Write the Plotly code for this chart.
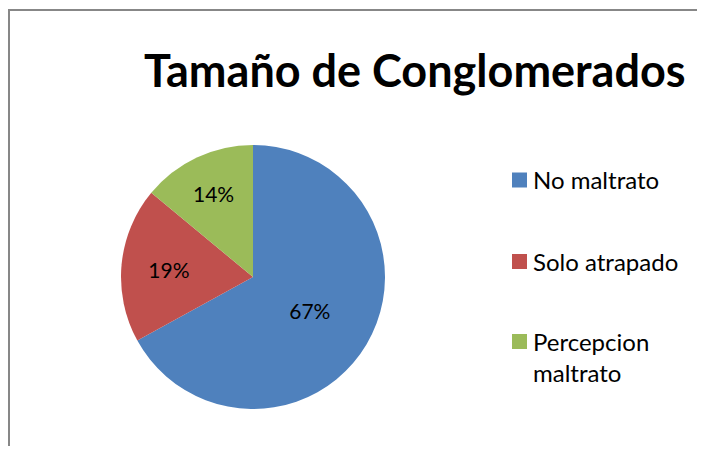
import plotly.graph_objects as go

labels = ["No maltrato", "Solo atrapado", "Percepcion<br>maltrato"]
values = [67, 19, 14]
colors = ["#4F81BD", "#C0504D", "#9BBB59"]

# the page body has an 8px margin, so the figure is laid out in page px minus 8
OFF = 8
W, H = 705 - 2 * OFF, 454 - 2 * OFF
FONT = "Lato"


def px(x):
    return (x - OFF) / W


def py(y):
    return 1 - (y - OFF) / H


fig = go.Figure()
fig.add_trace(
    go.Pie(
        labels=labels,
        values=values,
        marker=dict(colors=colors, line=dict(width=0)),
        sort=False,
        direction="clockwise",
        rotation=0,
        textinfo="percent",
        textposition="inside",
        insidetextorientation="horizontal",
        textfont=dict(family=FONT, size=21, color="black"),
        domain=dict(x=[px(121), px(385)], y=[py(409), py(145)]),
        hoverinfo="label+percent",
        showlegend=False,
    )
)

# legend drawn by hand so the item spacing matches the reference
legend_y = [180, 261.5, 341.5]
shapes = []
annotations = []
for lab, col, yc in zip(labels, colors, legend_y):
    shapes.append(dict(type="rect", xref="paper", yref="paper",
                       x0=px(512), x1=px(527), y0=py(yc + 7.5), y1=py(yc - 7.5),
                       fillcolor=col, line=dict(width=0)))
    annotations.append(dict(
        text=lab, x=px(531), y=py(yc - 17), xref="paper", yref="paper",
        xanchor="left", yanchor="top", align="left", showarrow=False,
        font=dict(family=FONT, size=24, color="black"),
    ))

annotations.append(dict(
    text="<b>Tamaño de Conglomerados</b>",
    x=px(415), y=py(70), xref="paper", yref="paper",
    xanchor="center", yanchor="middle", showarrow=False,
    font=dict(family=FONT, size=45, color="black"),
))

# chart-area border (left and top edges visible)
shapes += [
    dict(type="line", xref="paper", yref="paper",
         x0=1 / W, x1=1 / W, y0=0, y1=py(9),
         line=dict(color="#878787", width=2)),
    dict(type="line", xref="paper", yref="paper",
         x0=0, x1=1, y0=py(10), y1=py(10),
         line=dict(color="#878787", width=2)),
]

fig.update_layout(
    width=W,
    height=H,
    margin=dict(l=0, r=0, t=0, b=0),
    paper_bgcolor="white",
    font=dict(family=FONT, size=20, color="black"),
    showlegend=False,
    annotations=annotations,
    shapes=shapes,
)

fig.write_html("out.html")
